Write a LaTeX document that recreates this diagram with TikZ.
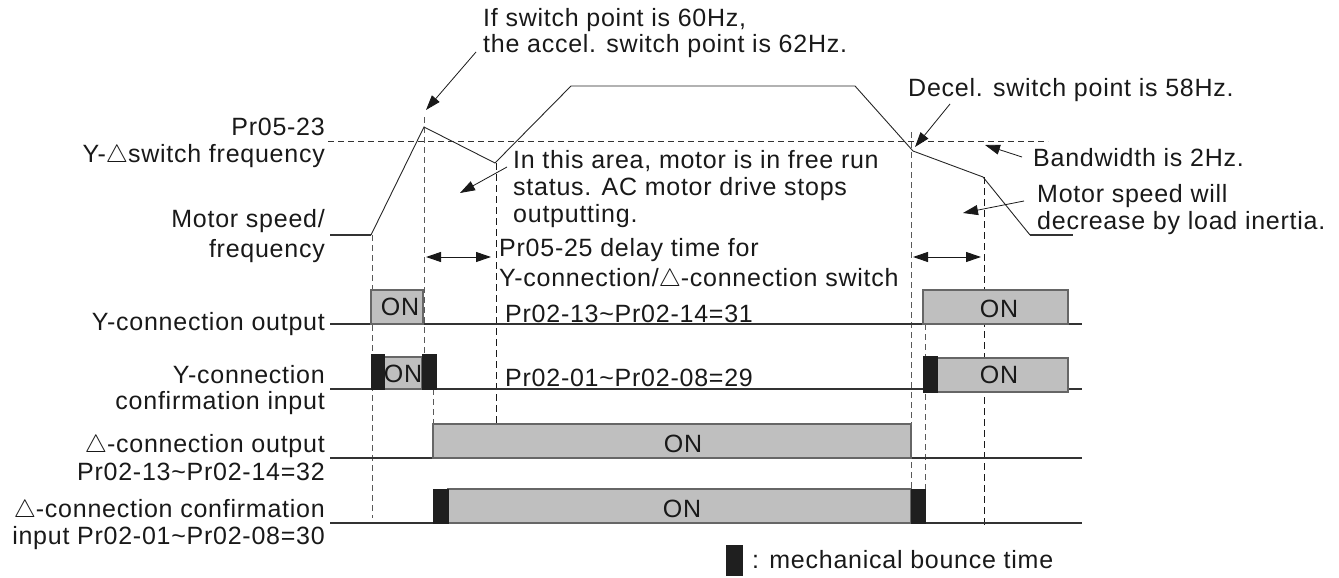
\documentclass[tikz,border=0pt]{standalone}
\usepackage{fontspec}
\setmainfont[LetterSpace=3]{Liberation Sans}
\usetikzlibrary{arrows.meta, positioning}

\newcommand{\dtri}{$\triangle$}

\begin{document}
\begin{tikzpicture}[x=1pt, y=-1pt,
    txt/.style={font=\fontsize{25}{27}\selectfont, inner sep=0pt, text height=17pt, text depth=4pt, text=black!90},
    lbl/.style={txt, anchor=base east},
    note/.style={txt, anchor=base west},
    ontxt/.style={txt, anchor=base},
    speed/.style={line width=0.9pt, draw=black!85},
    sigline/.style={line width=1.3pt, draw=black!80},
    guide/.style={dash pattern=on 6pt off 4pt, line width=1pt, draw=black!65},
    guidek/.style={dash pattern=on 7pt off 4pt, line width=1pt, draw=black!90},
    onbox/.style={draw=black!60, fill=black!25, line width=1.2pt},
    bounce/.style={draw=black!88, fill=black!88},
    pointer/.style={-{Triangle[length=15pt,width=10pt]}, line width=0.8pt, draw=black!90},
    span/.style={{Triangle[length=15pt,width=10pt]}-{Triangle[length=15pt,width=10pt]}, line width=1pt, draw=black!90}
]
    \useasboundingbox (0,0) rectangle (1339,578);

    % left labels
    \node[lbl] (prA) at (325,135) {Pr05-23};
    \node[lbl] (prB) at (325,162) {Y-\dtri switch frequency};
    \node[lbl] (spdA) at (325,227) {Motor speed/};
    \node[lbl] (spdB) at (325,257) {frequency};
    \node[lbl] (yout) at (325,330) {Y-connection output};
    \node[lbl] (yinA) at (325,383) {Y-connection};
    \node[lbl] (yinB) at (325,409) {confirmation input};
    \node[lbl] (doutA) at (325,452) {\dtri-connection output};
    \node[lbl] (doutB) at (325,480) {Pr02-13\textasciitilde Pr02-14=32};
    \node[lbl] (dinA) at (325,517) {\dtri-connection confirmation};
    \node[lbl] (dinB) at (325,544) {input Pr02-01\textasciitilde Pr02-08=30};

    % switch frequency level
    \draw[dash pattern=on 6pt off 4pt, line width=1pt, draw=black!80] (328,141) -- (1048,141);

    % guide lines
    \draw[guide] (372,235) -- (372,518);
    \draw[guide] (424,117) -- (424,354);
    \draw[guide] (433,389) -- (433,424);
    \draw[guidek] (496,163) -- (496,424);
    \draw[guide] (911,132) -- (911,489);
    \draw[guide] (925,324) -- (925,489);
    \draw[guidek] (984,177) -- (984,525);

    % signal base lines
    \foreach \yy in {324,389,458,523}
        \draw[sigline] (330,\yy) -- (1082,\yy);

    % motor speed
    \coordinate (s0) at (330,235);
    \coordinate (s1) at (371,235);
    \coordinate (s2) at (424,127);
    \coordinate (s3) at (495,163);
    \coordinate (s4) at (571,86);
    \coordinate (s5) at (855,86);
    \coordinate (s6) at (913,151);
    \coordinate (s7) at (983,177);
    \coordinate (s8) at (1030,235);
    \coordinate (s9) at (1073,235);
    \draw[sigline] (s0) -- (s1);
    \draw[speed] (s1) -- (s2) -- (s3) -- (s4) -- (s5) -- (s6) -- (s7) -- (s8);
    \draw[sigline] (s8) -- (s9);

    % delay time spans
    \coordinate (dl1) at (426,257);
    \coordinate (dr1) at (491,257);
    \coordinate (dl2) at (913,257);
    \coordinate (dr2) at (981,257);
    \draw[span] (dl1) -- (dr1);
    \draw[span] (dl2) -- (dr2);

    % Y-connection output
    \draw[onbox] (371,290) rectangle (423,324);
    \draw[onbox] (923,290) rectangle (1068,324);
    \node[ontxt] (yon1) at (400,315) {ON};
    \node[ontxt] (yon2) at (999,317) {ON};

    % Y-connection confirmation input
    \draw[onbox] (384,357) rectangle (422,389);
    \draw[bounce] (371,354) rectangle (384,389);
    \draw[bounce] (422,354) rectangle (436,389);
    \draw[onbox] (937,358) rectangle (1068,392);
    \draw[bounce] (923,356) rectangle (937,392);
    \node[ontxt] (yin1) at (403,382) {ON};
    \node[ontxt] (yin2) at (999,383) {ON};

    % delta-connection output
    \draw[onbox] (433,424) rectangle (911,458);
    \node[ontxt] (don) at (683,452) {ON};

    % delta-connection confirmation input
    \draw[onbox] (448,489) rectangle (911,523);
    \draw[bounce] (433,489) rectangle (448,523);
    \draw[bounce] (911,489) rectangle (925,523);
    \node[ontxt] (din) at (682,517) {ON};

    % parameter texts
    \node[note] (ypar) at (505,322) {Pr02-13\textasciitilde Pr02-14=31};
    \node[note] (yinpar) at (505,386) {Pr02-01\textasciitilde Pr02-08=29};
    \node[note] (delayA) at (499,256) {Pr05-25 delay time for};
    \node[note] (delayB) at (499,286) {Y-connection/\dtri-connection switch};

    % notes
    \node[note] (accelA) at (483,27) {If switch point is 60Hz,};
    \node[note] (accelB) at (483,53) {the accel. switch point is 62Hz.};
    \node[note] (freeA) at (513,168) {In this area, motor is in free run};
    \node[note] (freeB) at (513,195) {status. AC motor drive stops};
    \node[note] (freeC) at (513,222) {outputting.};
    \node[note] (decel) at (908,96) {Decel. switch point is 58Hz.};
    \node[note] (band) at (1033,166) {Bandwidth is 2Hz.};
    \node[note] (inertA) at (1037,202) {Motor speed will};
    \node[note] (inertB) at (1037,229) {decrease by load inertia.};

    \coordinate (accelTip) at (426,110);
    \coordinate (freeTip) at (460,193);
    \coordinate (decelTip) at (915,147);
    \coordinate (bandTip) at (985,145);
    \coordinate (inertTip) at (963,213);
    \draw[pointer] ([shift={(-7pt,1pt)}]accelB.base west) -- (accelTip);
    \draw[pointer] ([shift={(-6pt,1pt)}]freeA.base west) -- (freeTip);
    \draw[pointer] ([shift={(42pt,-8pt)}]decel.base west) -- (decelTip);
    \draw[pointer] ([shift={(-11pt,9pt)}]band.base west) -- (bandTip);
    \draw[pointer] ([shift={(-13pt,1pt)}]inertA.base west) -- (inertTip);

    % legend
    \draw[bounce] (726,545) rectangle (742,575);
    \node[note] (legend) at (752,568) {: mechanical bounce time};
\end{tikzpicture}
\end{document}
